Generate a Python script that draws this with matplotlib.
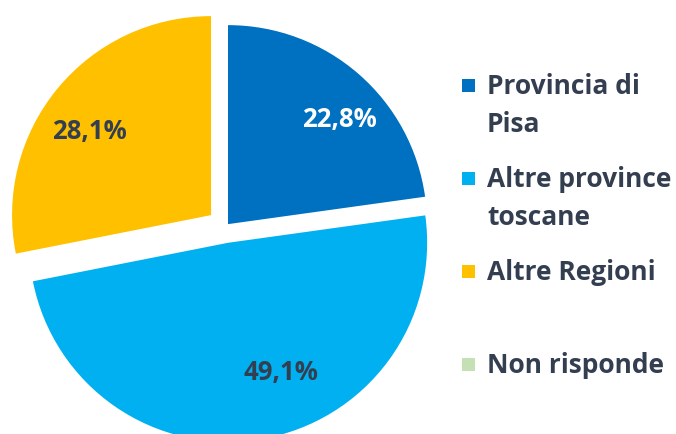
import numpy as np
import matplotlib.pyplot as plt
from matplotlib.patches import Rectangle

plt.rcParams['font.family'] = ['Open Sans', 'DejaVu Sans']

# dati
categorie = ["Provincia di\nPisa", "Altre province\ntoscane", "Altre Regioni", "Non risponde"]
percentuali = [22.8, 49.1, 28.1, 0.0]
colori = ["#0070C0", "#00B0F0", "#FFC000", "#C5E0B4"]
esplosione = [3.8, 16, 18.7, 0]   # in pixel
colore_testo = "#333F50"

W, H = 676, 434
fig = plt.figure(figsize=(W / 100, H / 100), dpi=100)
ax = fig.add_axes([0, 0, 1, 1])

wedges, _ = ax.pie(percentuali, colors=colori, explode=esplosione,
                   startangle=90, counterclock=False,
                   center=(225.5, H - 227), radius=199,
                   wedgeprops=dict(linewidth=0))
ax.set_xlim(0, W)
ax.set_ylim(0, H)
ax.set_aspect('equal')
ax.axis('off')

# etichette percentuali (posizione rispetto al vertice della fetta)
lab_ang = [43, -68, 145.5]
lab_dist = [153, 140, 148]
lab_col = ["white", colore_testo, colore_testo]
for w, p, a, d, c in zip(wedges, percentuali, lab_ang, lab_dist, lab_col):
    cx, cy = w.center
    x = cx + d * np.cos(np.radians(a))
    y = cy + d * np.sin(np.radians(a))
    ax.text(x, y, f"{p:.1f}%".replace(".", ","), ha='center', va='center',
            fontsize=18.5, fontweight='bold', color=c)

# legenda
for i, (nome, col) in enumerate(zip(categorie, colori)):
    y = H - (85 + 93 * i)
    ax.add_patch(Rectangle((462, y - 6.5), 13, 13, color=col, lw=0))
    ax.text(487, y - 9, nome.split("\n")[0], ha='left', va='baseline',
            fontsize=19, fontweight='bold', color=colore_testo)
    if "\n" in nome:
        ax.text(487, y - 9 - 38, nome.split("\n")[1], ha='left', va='baseline',
                fontsize=19, fontweight='bold', color=colore_testo)

fig.savefig("out.png", dpi=100)
